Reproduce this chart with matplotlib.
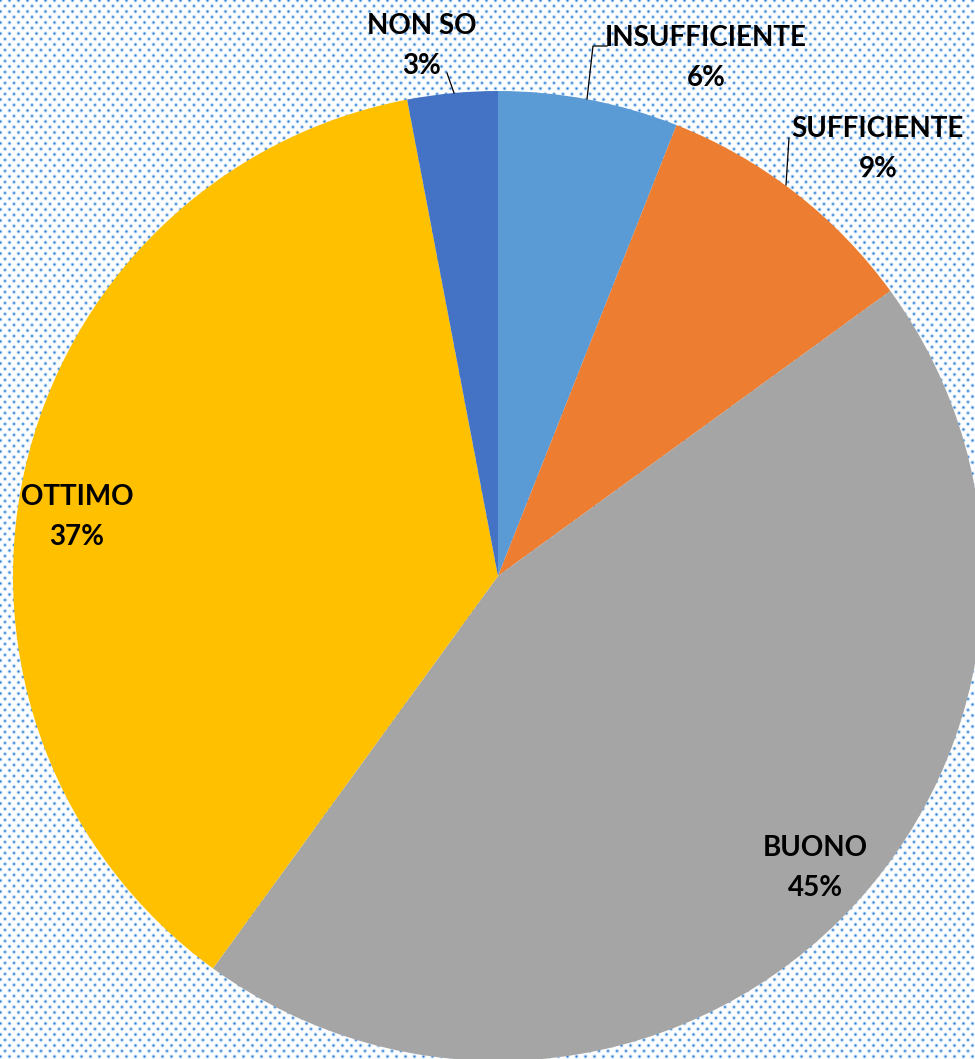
import numpy as np
import matplotlib.pyplot as plt

# ── Data ──────────────────────────────────────────────────────────────────────
categories = ["INSUFFICIENTE", "SUFFICIENTE", "BUONO", "OTTIMO", "NON SO"]
values     = [6, 9, 45, 37, 3]
colors     = ["#5B9BD5", "#ED7D31", "#A5A5A5", "#FFC000", "#4472C4"]

W, H = 975, 1059
plt.rcParams["font.family"] = ["Lato", "DejaVu Sans"]


def dot_pattern(w, h, dx=9.0, dy=5.5):
    """White background with a staggered lattice of small blue dots."""
    yy, xx = np.mgrid[0:h, 0:w].astype(float)
    row = np.round(yy / dy)
    cy = row * dy
    off = (row % 2) * dx / 2
    cx = np.round((xx - off) / dx) * dx + off
    d2 = (xx - cx) ** 2 + (yy - cy) ** 2
    a = np.exp(-d2 / 1.9)
    blue = np.array([0.15, 0.49, 0.84])
    img = np.ones((h, w, 3)) * (1 - a[..., None]) + blue * a[..., None]
    return img


fig = plt.figure(figsize=(W / 100, H / 100), dpi=100)
ax = fig.add_axes([0, 0, 1, 1])
ax.imshow(dot_pattern(W, H), extent=(0, W, 0, H), zorder=0, interpolation="nearest")

cx, cy, r = 498, H - 576, 485
ax.pie(values, colors=colors, startangle=90, counterclock=False,
       center=(cx, cy), radius=r,
       wedgeprops=dict(linewidth=0), frame=False)
ax.set_xlim(0, W)
ax.set_ylim(0, H)
ax.set_aspect("equal")
ax.axis("off")

# label positions (pixels from top-left), one per category
label_pos = {
    "INSUFFICIENTE": (706, 58),
    "SUFFICIENTE":   (878, 149),
    "BUONO":         (815, 868),
    "OTTIMO":        (77, 517),
    "NON SO":        (422, 46),
}
total = sum(values)
for cat, v in zip(categories, values):
    x, y = label_pos[cat]
    ax.text(x, H - y, f"{cat}\n{v / total:.0%}", ha="center", va="center",
            fontsize=20, fontweight="bold", color="black",
            linespacing=1.65, zorder=5)

# leader lines
leaders = [
    [(447, 73), (454, 93)],
    [(607, 46), (593, 46), (587, 99)],
    [(789, 138), (786, 185)],
]
for pts in leaders:
    xs = [p[0] for p in pts]
    ys = [H - p[1] for p in pts]
    ax.plot(xs, ys, color="black", linewidth=0.9, zorder=4)

plt.savefig("out.png", dpi=100)
